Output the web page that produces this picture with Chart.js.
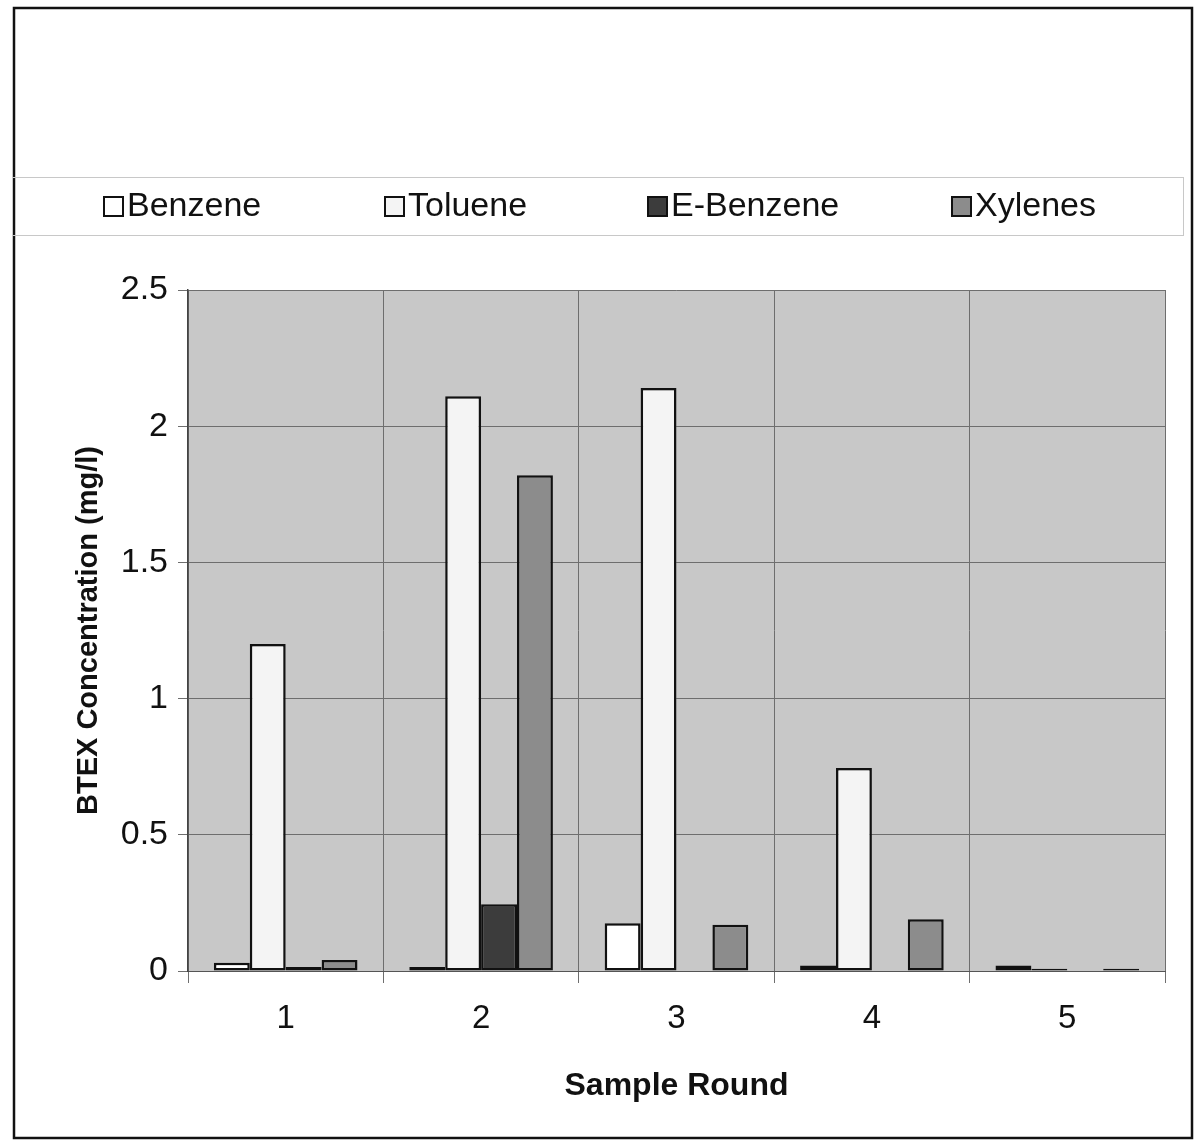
<!DOCTYPE html>
<html>
<head>
<meta charset="utf-8">
<script src="https://cdn.jsdelivr.net/npm/chart.js@4.4.1/dist/chart.umd.min.js"></script>
<style>
  html, body { margin: 0; padding: 0; background: #fff; }
  #wrap { width: 1196px; height: 1147px; }
</style>
</head>
<body>
<div id="wrap"><canvas id="myChart" width="1196" height="1147"></canvas></div>
<script>
// sample rounds
var rounds = ['1', '2', '3', '4', '5'];

// BTEX values (mg/l)
var benzene  = [0.03, 0.015, 0.175, 0.02, 0.02];
var toluene  = [1.2, 2.11, 2.14, 0.745, 0.008];
var eBenzene = [0.015, 0.245, 0, 0, 0];
var xylenes  = [0.04, 1.82, 0.17, 0.19, 0.008];

var seriesNames = ['Benzene', 'Toluene', 'E-Benzene', 'Xylenes'];
var yTicks = [0, 0.5, 1, 1.5, 2, 2.5];

var FONT = "'Liberation Sans', Arial, sans-serif";

// white page, grey plot area and the outer frame
var backPlugin = {
    id: 'backPlugin',
    beforeDraw: function (chart) {
        var c = chart.ctx, a = chart.chartArea;
        c.save();
        c.fillStyle = '#fff';
        c.fillRect(0, 0, chart.width, chart.height);
        c.fillStyle = '#c8c8c8';
        c.fillRect(a.left, a.top, a.right - a.left, a.bottom - a.top);
        c.strokeStyle = '#111';
        c.lineWidth = 2.5;
        c.strokeRect(14, 8, 1178, 1130);
        c.restore();
    },
    afterDraw: function (chart) {
        // legend box across the top
        var c = chart.ctx;
        c.save();
        c.strokeStyle = '#c8c8c8';
        c.lineWidth = 1;
        c.strokeRect(12.5, 177.5, 1171, 58);
        var xs = [104, 385, 648, 952];
        c.font = '34px ' + FONT;
        c.textBaseline = 'middle';
        chart.data.datasets.forEach(function (ds, i) {
            c.fillStyle = ds.backgroundColor;
            c.fillRect(xs[i], 197, 19, 19);
            c.strokeStyle = '#111';
            c.lineWidth = 2;
            c.strokeRect(xs[i], 197, 19, 19);
            c.fillStyle = '#111';
            c.fillText(ds.label, xs[i] + 23, 207);
        });
        c.restore();
    }
};

const ctx = document.getElementById('myChart');
const myChart = new Chart(ctx, {
    type: 'bar',
    data: {
        labels: rounds,
        datasets: [
            { label: seriesNames[0], data: benzene,  backgroundColor: '#ffffff' },
            { label: seriesNames[1], data: toluene,  backgroundColor: '#f4f4f4' },
            { label: seriesNames[2], data: eBenzene, backgroundColor: '#3c3c3c' },
            { label: seriesNames[3], data: xylenes,  backgroundColor: '#8c8c8c' }
        ].map(function (d) {
            d.borderColor = '#111';
            d.borderWidth = 2.5;
            d.borderSkipped = false;
            d.categoryPercentage = 0.735;
            d.barPercentage = 1;
            return d;
        })
    },
    plugins: [backPlugin],
    options: {
        responsive: false,
        animation: false,
        layout: { padding: { top: 290, right: 31, left: 0, bottom: 0 } },
        plugins: {
            legend: { display: false },
            tooltip: { enabled: false }
        },
        scales: {
            x: {
                grid: { color: '#6e6e6e', lineWidth: 1, tickLength: 12, offset: true },
                border: { color: '#555', width: 1 },
                ticks: { font: { family: FONT, size: 33 }, color: '#111', padding: 16 },
                title: {
                    display: true, text: 'Sample Round', color: '#111',
                    font: { family: FONT, size: 32, weight: 'bold' },
                    padding: { top: 0, bottom: 42 }
                },
                afterFit: function (scale) { scale.height = 1147 - 971; }
            },
            y: {
                min: 0, max: 2.5,
                afterBuildTicks: function (scale) {
                    scale.ticks = yTicks.map(function (v) { return { value: v }; });
                },
                grid: { color: '#6e6e6e', lineWidth: 1, tickLength: 10 },
                border: { color: '#444', width: 1.5 },
                ticks: {
                    font: { family: FONT, size: 34 }, color: '#111', padding: 10,
                    callback: function (v) { return String(v); }
                },
                title: {
                    display: true, text: 'BTEX Concentration (mg/l)', color: '#111',
                    font: { family: FONT, size: 29, weight: 'bold' },
                    padding: { top: 72, bottom: 0 }
                },
                afterFit: function (scale) { scale.width = 188; }
            }
        }
    }
});
</script>
</body>
</html>
